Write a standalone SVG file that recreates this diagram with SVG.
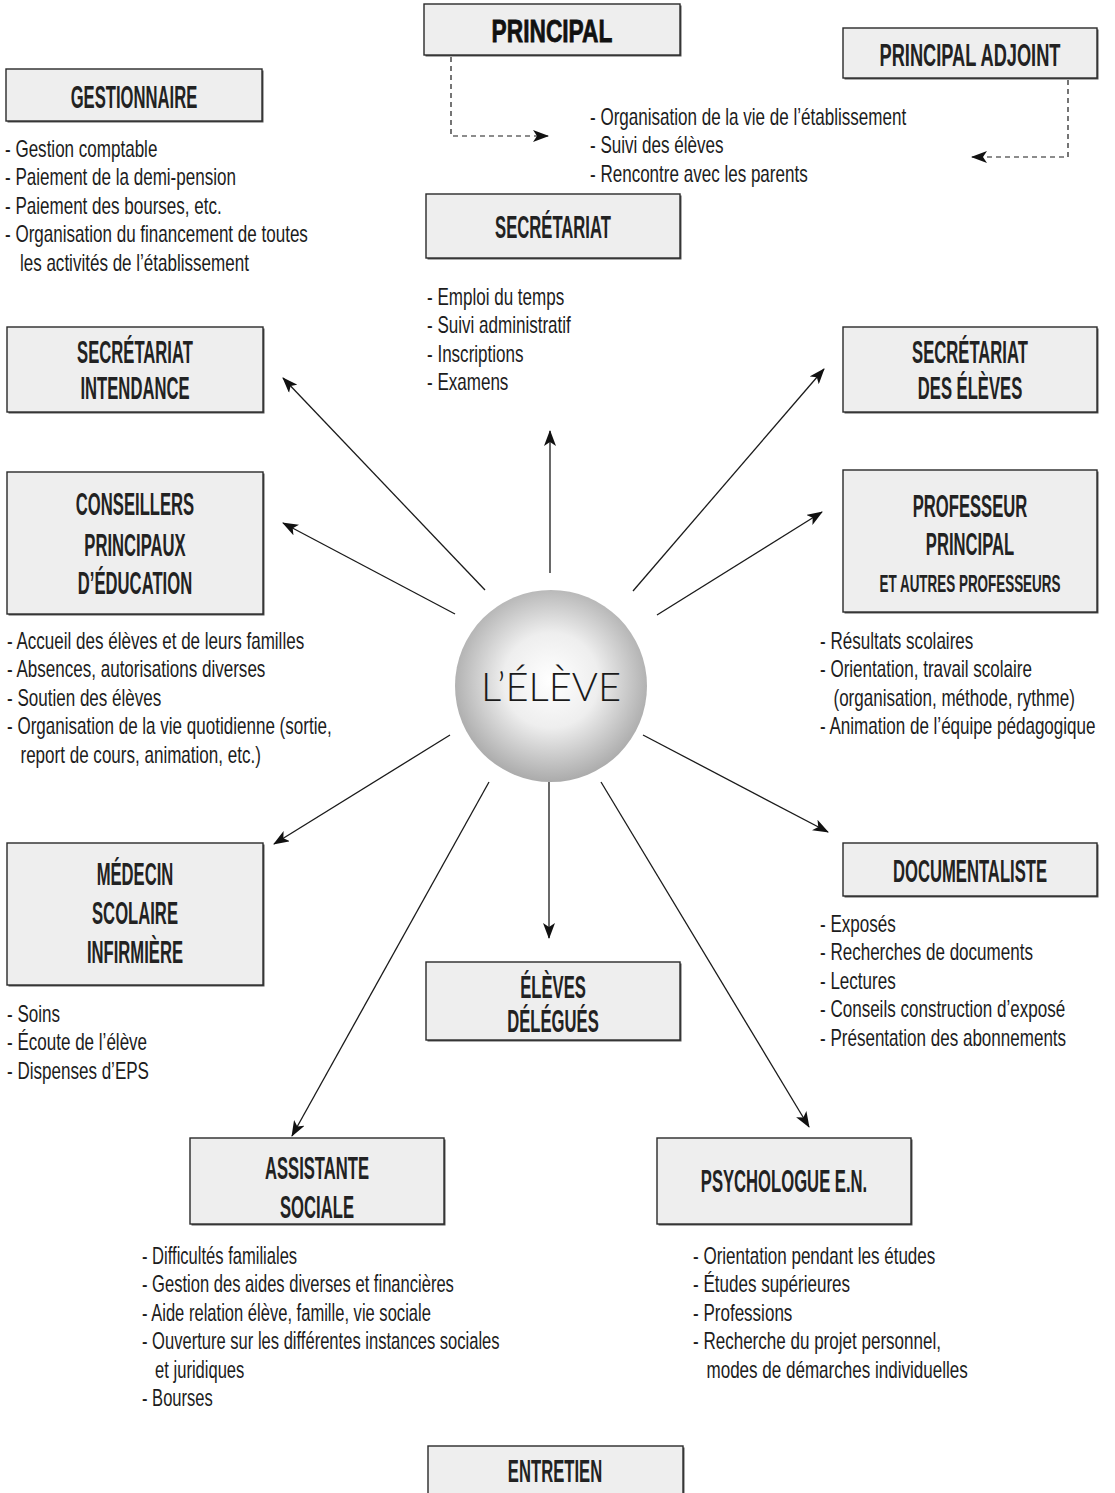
<svg xmlns="http://www.w3.org/2000/svg" width="1115" height="1493" viewBox="0 0 1115 1493">
<style>
.box{fill:#eeeeee;stroke:#2a2a2a;stroke-width:1.4}
.sh{fill:#555555}
.t{font-family:"Liberation Sans",Arial,sans-serif;font-size:32px;font-weight:bold;fill:#222222;text-anchor:middle}
.ts{font-family:"Liberation Sans",Arial,sans-serif;font-size:24px;font-weight:bold;fill:#222222;text-anchor:middle}
.tb{font-family:"Liberation Sans",Arial,sans-serif;font-size:32px;font-weight:bold;fill:#111;stroke:#111;stroke-width:0.8;text-anchor:middle}
.l{font-family:"Liberation Sans",Arial,sans-serif;font-size:24px;fill:#1c1c1c}
.ar{fill:none;stroke:#1a1a1a;stroke-width:1.3}
.da{fill:none;stroke:#1a1a1a;stroke-width:1.2;stroke-dasharray:5 4}
.ctr{font-family:Lato,"Open Sans","Liberation Sans",sans-serif;font-weight:300;font-size:40px;fill:#1a1a1a;text-anchor:middle}
</style>
<defs>
<marker id="ah" markerUnits="userSpaceOnUse" markerWidth="16" markerHeight="12" viewBox="0 0 16 12" refX="15" refY="6" orient="auto">
<path d="M0,0 L16,6 L0,12 L4,6 z" fill="#111"/>
</marker>
<radialGradient id="sphere" cx="50%" cy="47%" r="55%">
<stop offset="0" stop-color="#ffffff"/>
<stop offset="0.45" stop-color="#eeeeee"/>
<stop offset="1" stop-color="#a6a6a6"/>
</radialGradient>
</defs>
<rect width="1115" height="1493" fill="#ffffff"/>

<g id="connectors">
<path class="da" d="M451,57 V136 H548" marker-end="url(#ah)"/>
<path class="da" d="M1068,80 V157 H972" marker-end="url(#ah)"/>
<line class="ar" x1="550" y1="573" x2="550" y2="431" marker-end="url(#ah)"/>
<line class="ar" x1="485" y1="590" x2="283" y2="378" marker-end="url(#ah)"/>
<line class="ar" x1="455" y1="614" x2="283" y2="523" marker-end="url(#ah)"/>
<line class="ar" x1="633" y1="591" x2="824" y2="369" marker-end="url(#ah)"/>
<line class="ar" x1="657" y1="615" x2="822" y2="512" marker-end="url(#ah)"/>
<line class="ar" x1="450" y1="735" x2="274" y2="844" marker-end="url(#ah)"/>
<line class="ar" x1="549" y1="782" x2="549" y2="938" marker-end="url(#ah)"/>
<line class="ar" x1="489" y1="782" x2="292" y2="1136" marker-end="url(#ah)"/>
<line class="ar" x1="601" y1="782" x2="809" y2="1127" marker-end="url(#ah)"/>
<line class="ar" x1="643" y1="735" x2="828" y2="832" marker-end="url(#ah)"/>
</g>

<g id="eleve">
<circle cx="551" cy="686" r="96" fill="url(#sphere)"/>
<text class="ctr" x="551" y="701" textLength="140" lengthAdjust="spacingAndGlyphs">L’ÉLÈVE</text>
</g>

<g id="principal">
<rect class="sh" x="425.5" y="5.5" width="256" height="51"/>
<rect class="box" x="424" y="4" width="256" height="51"/>
<g transform="translate(552,0) scale(0.71,1)"><text class="tb" x="0" y="42">PRINCIPAL</text></g>
<g transform="translate(590,0) scale(0.71,1)">
<text class="l" y="125">- Organisation de la vie de l’établissement</text>
<text class="l" y="153.5">- Suivi des élèves</text>
<text class="l" y="182">- Rencontre avec les parents</text>
</g>
</g>

<g id="principal-adjoint">
<rect class="sh" x="844.5" y="29.5" width="254" height="50"/>
<rect class="box" x="843" y="28" width="254" height="50"/>
<g transform="translate(970,0) scale(0.57,1)"><text class="t" x="0" y="66">PRINCIPAL ADJOINT</text></g>
</g>

<g id="gestionnaire">
<rect class="sh" x="7.5" y="70.5" width="256" height="52"/>
<rect class="box" x="6" y="69" width="256" height="52"/>
<g transform="translate(134,0) scale(0.52,1)"><text class="t" x="0" y="108">GESTIONNAIRE</text></g>
<g transform="translate(5,0) scale(0.71,1)">
<text class="l" y="157">- Gestion comptable</text>
<text class="l" y="185.5">- Paiement de la demi-pension</text>
<text class="l" y="214">- Paiement des bourses, etc.</text>
<text class="l" y="242.5">- Organisation du financement de toutes</text>
<text class="l" x="21" y="271">les activités de l’établissement</text>
</g>
</g>

<g id="secretariat">
<rect class="sh" x="427.5" y="195.5" width="254" height="64"/>
<rect class="box" x="426" y="194" width="254" height="64"/>
<g transform="translate(553,0) scale(0.52,1)"><text class="t" x="0" y="238">SECRÉTARIAT</text></g>
<g transform="translate(427,0) scale(0.71,1)">
<text class="l" y="305">- Emploi du temps</text>
<text class="l" y="333.5">- Suivi administratif</text>
<text class="l" y="362">- Inscriptions</text>
<text class="l" y="390.5">- Examens</text>
</g>
</g>

<g id="secretariat-intendance">
<rect class="sh" x="8.5" y="328.5" width="256" height="85"/>
<rect class="box" x="7" y="327" width="256" height="85"/>
<g transform="translate(135,0) scale(0.52,1)">
<text class="t" x="0" y="363">SECRÉTARIAT</text>
<text class="t" x="0" y="399">INTENDANCE</text>
</g>
</g>

<g id="secretariat-eleves">
<rect class="sh" x="844.5" y="328.5" width="254" height="85"/>
<rect class="box" x="843" y="327" width="254" height="85"/>
<g transform="translate(970,0) scale(0.52,1)">
<text class="t" x="0" y="363">SECRÉTARIAT</text>
<text class="t" x="0" y="399">DES ÉLÈVES</text>
</g>
</g>

<g id="conseillers">
<rect class="sh" x="8.5" y="473.5" width="256" height="142"/>
<rect class="box" x="7" y="472" width="256" height="142"/>
<g transform="translate(135,0) scale(0.52,1)">
<text class="t" x="0" y="515">CONSEILLERS</text>
<text class="t" x="0" y="556">PRINCIPAUX</text>
<text class="t" x="0" y="594">D’ÉDUCATION</text>
</g>
<g transform="translate(7,0) scale(0.71,1)">
<text class="l" y="649">- Accueil des élèves et de leurs familles</text>
<text class="l" y="677.5">- Absences, autorisations diverses</text>
<text class="l" y="706">- Soutien des élèves</text>
<text class="l" y="734.5">- Organisation de la vie quotidienne (sortie,</text>
<text class="l" x="19" y="763">report de cours, animation, etc.)</text>
</g>
</g>

<g id="professeur">
<rect class="sh" x="844.5" y="471.5" width="254" height="142"/>
<rect class="box" x="843" y="470" width="254" height="142"/>
<g transform="translate(970,0) scale(0.52,1)">
<text class="t" x="0" y="517">PROFESSEUR</text>
<text class="t" x="0" y="555">PRINCIPAL</text>
</g>
<g transform="translate(970,0) scale(0.56,1)">
<text class="ts" x="0" y="592">ET AUTRES PROFESSEURS</text>
</g>
<g transform="translate(820,0) scale(0.71,1)">
<text class="l" y="649">- Résultats scolaires</text>
<text class="l" y="677.5">- Orientation, travail scolaire</text>
<text class="l" x="19" y="706">(organisation, méthode, rythme)</text>
<text class="l" y="734.5">- Animation de l’équipe pédagogique</text>
</g>
</g>

<g id="documentaliste">
<rect class="sh" x="844.5" y="844.5" width="254" height="53"/>
<rect class="box" x="843" y="843" width="254" height="53"/>
<g transform="translate(970,0) scale(0.52,1)"><text class="t" x="0" y="882">DOCUMENTALISTE</text></g>
<g transform="translate(820,0) scale(0.71,1)">
<text class="l" y="932">- Exposés</text>
<text class="l" y="960.5">- Recherches de documents</text>
<text class="l" y="989">- Lectures</text>
<text class="l" y="1017.5">- Conseils construction d’exposé</text>
<text class="l" y="1046">- Présentation des abonnements</text>
</g>
</g>

<g id="medecin">
<rect class="sh" x="8.5" y="844.5" width="256" height="142"/>
<rect class="box" x="7" y="843" width="256" height="142"/>
<g transform="translate(135,0) scale(0.52,1)">
<text class="t" x="0" y="885">MÉDECIN</text>
<text class="t" x="0" y="924">SCOLAIRE</text>
<text class="t" x="0" y="963">INFIRMIÈRE</text>
</g>
<g transform="translate(7,0) scale(0.71,1)">
<text class="l" y="1022">- Soins</text>
<text class="l" y="1050.5">- Écoute de l’élève</text>
<text class="l" y="1079">- Dispenses d’EPS</text>
</g>
</g>

<g id="eleves-delegues">
<rect class="sh" x="427.5" y="963.5" width="254" height="78"/>
<rect class="box" x="426" y="962" width="254" height="78"/>
<g transform="translate(553,0) scale(0.52,1)">
<text class="t" x="0" y="998">ÉLÈVES</text>
<text class="t" x="0" y="1032">DÉLÉGUÉS</text>
</g>
</g>

<g id="assistante">
<rect class="sh" x="191.5" y="1139.5" width="254" height="86"/>
<rect class="box" x="190" y="1138" width="254" height="86"/>
<g transform="translate(317,0) scale(0.52,1)">
<text class="t" x="0" y="1179">ASSISTANTE</text>
<text class="t" x="0" y="1218">SOCIALE</text>
</g>
<g transform="translate(142,0) scale(0.69,1)">
<text class="l" y="1264">- Difficultés familiales</text>
<text class="l" y="1292.5">- Gestion des aides diverses et financières</text>
<text class="l" y="1321">- Aide relation élève, famille, vie sociale</text>
<text class="l" y="1349.5">- Ouverture sur les différentes instances sociales</text>
<text class="l" x="19" y="1378">et juridiques</text>
<text class="l" y="1406.5">- Bourses</text>
</g>
</g>

<g id="psychologue">
<rect class="sh" x="658.5" y="1139.5" width="254" height="86"/>
<rect class="box" x="657" y="1138" width="254" height="86"/>
<g transform="translate(784,0) scale(0.52,1)"><text class="t" x="0" y="1192">PSYCHOLOGUE E.N.</text></g>
<g transform="translate(693,0) scale(0.71,1)">
<text class="l" y="1264">- Orientation pendant les études</text>
<text class="l" y="1292.5">- Études supérieures</text>
<text class="l" y="1321">- Professions</text>
<text class="l" y="1349.5">- Recherche du projet personnel,</text>
<text class="l" x="19" y="1378">modes de démarches individuelles</text>
</g>
</g>

<g id="entretien">
<rect class="sh" x="429.5" y="1447.5" width="255" height="60"/>
<rect class="box" x="428" y="1446" width="255" height="60"/>
<g transform="translate(555,0) scale(0.52,1)"><text class="t" x="0" y="1482">ENTRETIEN</text></g>
</g>
</svg>
